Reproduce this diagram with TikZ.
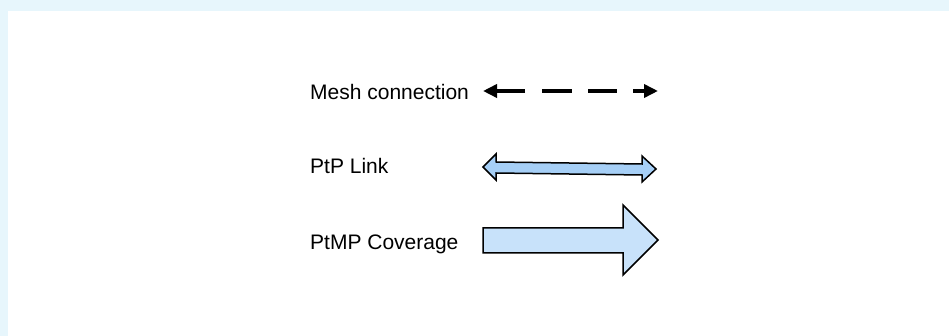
\documentclass[tikz,border=0pt]{standalone}
\usepackage{fontspec}
\setmainfont{Liberation Sans}
\usetikzlibrary{arrows.meta}
\definecolor{bgblue}{HTML}{E7F6FC}
\definecolor{ptpfill}{HTML}{A6CFF6}
\definecolor{ptmpfill}{HTML}{C8E2FA}
\begin{document}
\begin{tikzpicture}[x=1pt,y=-1pt,
  lbl/.style={anchor=base west,inner sep=0pt,font=\fontsize{21}{25}\selectfont},
  meshline/.style={line width=3.6pt,draw=black},
  meshhead/.style={-{Triangle[length=14pt,width=13pt]}},
  shapearrow/.style={draw=black,line width=1.5pt,line join=miter}]
\useasboundingbox (0,0) rectangle (949,336);
\fill[bgblue] (0,0) rectangle (949,336);
\fill[white] (8,11) rectangle (949,336);
% labels
\node[lbl] (mesh) at (310,100) {Mesh connection};
\node[lbl] (ptp) at (310,174) {PtP Link};
\node[lbl] (ptmp) at (310,250) {PtMP Coverage};
% mesh connection arrow
\coordinate (mL) at (483,91);
\coordinate (m1) at (525,91);
\coordinate (m2) at (542,91);
\coordinate (m3) at (572,91);
\coordinate (m4) at (588,91);
\coordinate (m5) at (617,91);
\coordinate (m6) at (633,91);
\coordinate (mR) at (658,91);
\draw[meshline,meshhead] (m1) -- (mL);
\draw[meshline] (m2) -- (m3);
\draw[meshline] (m4) -- (m5);
\draw[meshline,meshhead] (m6) -- (mR);
% PtP link double arrow
\filldraw[shapearrow,fill=ptpfill]
  (483,167) -- (496,154) -- (496,162) -- (642,164) -- (642,156) -- (656,169)
  -- (642,182) -- (642,175) -- (496,173) -- (496,180) -- cycle;
% PtMP coverage block arrow
\filldraw[shapearrow,fill=ptmpfill]
  (483,228) -- (623,228) -- (623,205) -- (658,240) -- (623,275)
  -- (623,253) -- (483,253) -- cycle;
\end{tikzpicture}
\end{document}
